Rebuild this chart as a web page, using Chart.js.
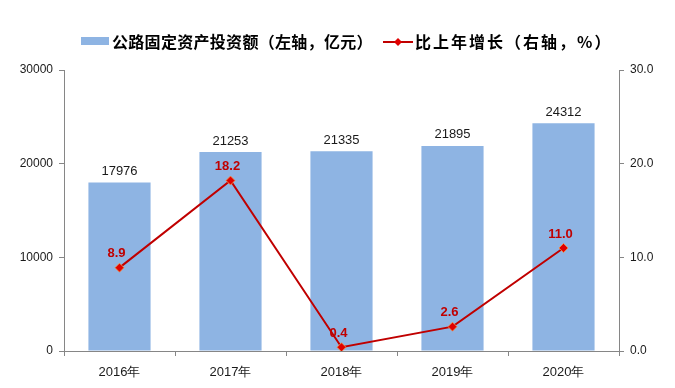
<!DOCTYPE html>
<html>
<head>
<meta charset="utf-8">
<script src="https://cdn.jsdelivr.net/npm/chart.js@4"></script>
<style>
  html, body { margin: 0; padding: 0; background: #fff; }
  #wrap { width: 675px; height: 388px; }
</style>
</head>
<body>
<div id="wrap"><canvas id="chart" width="675" height="388"></canvas></div>
<script>
// Chart data
const years = ['2016年', '2017年', '2018年', '2019年', '2020年'];
const investment = [17976, 21253, 21335, 21895, 24312]; // 亿元, left axis
const growth = [8.9, 18.2, 0.4, 2.6, 11.0];             // %, right axis
const leftTicks = [0, 10000, 20000, 30000];
const rightTicks = [0.0, 10.0, 20.0, 30.0];

const barLabel = '公路固定资产投资额（左轴，亿元）';
const lineLabel = '比上年增长（右轴，%）';

const BAR_COLOR = '#8EB4E3';
const LINE_COLOR = '#C00000';
const AXIS_COLOR = '#868686';
const TEXT_COLOR = '#1a1a1a';
const FONT = '"Liberation Sans", Arial, sans-serif';

// Draws value labels and the legend on the canvas
const labelPlugin = {
  id: 'valueLabels',
  afterDatasetsDraw(chart) {
    const ctx = chart.ctx;
    ctx.save();
    ctx.textAlign = 'center';
    ctx.textBaseline = 'middle';

    // bar values (dataset 1)
    ctx.font = '13px ' + FONT;
    ctx.fillStyle = TEXT_COLOR;
    chart.getDatasetMeta(1).data.forEach((bar, i) => {
      ctx.fillText(String(investment[i]), bar.x, bar.y - 11);
    });

    // growth values (dataset 0)
    ctx.font = 'bold 13px ' + FONT;
    ctx.fillStyle = LINE_COLOR;
    chart.getDatasetMeta(0).data.forEach((pt, i) => {
      ctx.fillText(growth[i].toFixed(1), pt.x - 3, pt.y - 14);
    });

    // legend
    ctx.textAlign = 'left';
    ctx.font = 'bold 16px "Noto Sans CJK SC", sans-serif';
    ctx.fillStyle = BAR_COLOR;
    ctx.fillRect(81, 37, 28, 8);
    ctx.fillStyle = '#000';
    ctx.letterSpacing = '0.3px';
    ctx.fillText(barLabel, 112, 42);

    ctx.strokeStyle = LINE_COLOR;
    ctx.lineWidth = 2;
    ctx.beginPath();
    ctx.moveTo(383, 42);
    ctx.lineTo(413, 42);
    ctx.stroke();
    ctx.fillStyle = '#E00000';
    ctx.beginPath();
    ctx.moveTo(398, 38);
    ctx.lineTo(402, 42);
    ctx.lineTo(398, 46);
    ctx.lineTo(394, 42);
    ctx.closePath();
    ctx.fill();
    ctx.fillStyle = '#000';
    ctx.letterSpacing = '2px';
    ctx.fillText(lineLabel, 415, 42);
    ctx.restore();
  }
};

const ctx = document.getElementById('chart').getContext('2d');
const chart = new Chart(ctx, {
  data: {
    labels: years,
    datasets: [
      {
        type: 'line',
        label: lineLabel,
        data: growth,
        yAxisID: 'y1',
        borderColor: LINE_COLOR,
        borderWidth: 2,
        pointStyle: 'rectRot',
        pointRadius: 4.5,
        pointBackgroundColor: '#E00000',
        pointBorderColor: '#F79646',
        pointBorderWidth: 0.8,
        tension: 0,
        order: 0
      },
      {
        type: 'bar',
        label: barLabel,
        data: investment,
        yAxisID: 'y',
        backgroundColor: BAR_COLOR,
        categoryPercentage: 0.56,
        barPercentage: 1.0,
        order: 1
      }
    ]
  },
  options: {
    responsive: false,
    animation: false,
    layout: { padding: { top: 70, left: 0, right: 0, bottom: 0 } },
    plugins: {
      legend: { display: false },
      tooltip: { enabled: false }
    },
    scales: {
      x: {
        offset: true,
        grid: {
          offset: true,
          drawOnChartArea: false,
          drawTicks: true,
          tickLength: 5,
          color: AXIS_COLOR
        },
        border: { color: AXIS_COLOR, width: 1 },
        ticks: { color: TEXT_COLOR, font: { size: 13, family: FONT }, padding: 9 },
        afterFit(scale) { scale.height = 37; }
      },
      y: {
        position: 'left',
        min: 0,
        max: 30000,
        afterBuildTicks(scale) { scale.ticks = leftTicks.map(v => ({ value: v })); },
        grid: { drawOnChartArea: false, tickLength: 5, color: AXIS_COLOR },
        border: { color: AXIS_COLOR, width: 1 },
        ticks: {
          color: TEXT_COLOR,
          font: { size: 12, family: FONT },
          padding: 6,
          callback: v => String(v)
        },
        afterFit(scale) { scale.width = 64; }
      },
      y1: {
        position: 'right',
        min: 0,
        max: 30,
        afterBuildTicks(scale) { scale.ticks = rightTicks.map(v => ({ value: v })); },
        grid: { drawOnChartArea: false, tickLength: 5, color: AXIS_COLOR },
        border: { color: AXIS_COLOR, width: 1 },
        ticks: {
          color: TEXT_COLOR,
          font: { size: 12, family: FONT },
          padding: 6,
          callback: v => Number(v).toFixed(1)
        },
        afterFit(scale) { scale.width = 56; }
      }
    }
  },
  plugins: [labelPlugin]
});
</script>
</body>
</html>
